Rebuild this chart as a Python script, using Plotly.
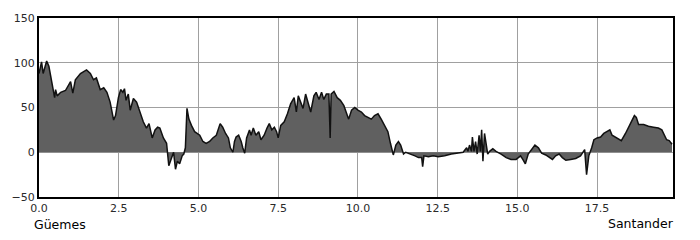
import plotly.graph_objects as go

dist_km = [0.0, 0.08, 0.13, 0.24, 0.31, 0.44, 0.49, 0.52, 0.57, 0.68, 0.83, 0.99, 1.06, 1.14, 1.3,
           1.49, 1.61, 1.71, 1.8, 1.92, 2.03, 2.13, 2.23, 2.34, 2.4, 2.49, 2.56, 2.63, 2.68, 2.73,
           2.8, 2.86, 2.96, 3.06, 3.17, 3.27, 3.37, 3.45, 3.55, 3.64, 3.72, 3.79, 3.9, 4.0, 4.07,
           4.15, 4.22, 4.28, 4.34, 4.41, 4.49, 4.54, 4.59, 4.64, 4.7, 4.78, 4.88, 5.04, 5.14, 5.24,
           5.35, 5.45, 5.56, 5.68, 5.76, 5.85, 5.94, 6.0, 6.08, 6.13, 6.18, 6.26, 6.34, 6.39, 6.45,
           6.51, 6.6, 6.65, 6.72, 6.8, 6.89, 6.96, 7.06, 7.15, 7.22, 7.3, 7.38, 7.45, 7.5, 7.58,
           7.69, 7.79, 7.89, 8.0, 8.07, 8.13, 8.2, 8.28, 8.36, 8.45, 8.52, 8.62, 8.69, 8.78, 8.86,
           8.93, 9.01, 9.09, 9.13, 9.16, 9.25, 9.35, 9.45, 9.56, 9.64, 9.71, 9.8, 9.9, 10.0, 10.11,
           10.21, 10.31, 10.42, 10.52, 10.63, 10.73, 10.84, 10.94, 11.02, 11.11, 11.19, 11.27, 11.34, 11.43, 11.5,
           11.58, 11.69, 11.79, 11.9, 12.0, 12.03, 12.07, 12.21, 12.36, 12.52, 12.72, 12.93, 13.14, 13.3, 13.41,
           13.45, 13.5, 13.56, 13.59, 13.64, 13.69, 13.74, 13.8, 13.84, 13.88, 13.92, 13.97, 14.02, 14.07, 14.13,
           14.23, 14.33, 14.49, 14.65, 14.8, 14.96, 15.1, 15.17, 15.25, 15.34, 15.45, 15.55, 15.66, 15.76, 15.89,
           16.0, 16.1, 16.2, 16.31, 16.41, 16.52, 16.67, 16.83, 16.98, 17.11, 17.17, 17.24, 17.33, 17.4, 17.5,
           17.61, 17.71, 17.81, 17.9, 17.97, 18.07, 18.18, 18.26, 18.39, 18.49, 18.6, 18.67, 18.73, 18.8, 18.96,
           19.11, 19.27, 19.42, 19.53, 19.6, 19.68, 19.76, 19.85]

elev_m = [88, 101, 88, 102, 96, 72, 61, 70, 63, 67, 69, 79, 66, 81, 88,
          92, 88, 81, 83, 70, 72, 67, 56, 36, 41, 61, 70, 67, 71, 58,
          65, 47, 60, 56, 45, 34, 27, 32, 16, 25, 28, 27, 16, 10, -15,
          -6, 0, -19, -10, -13, -4, -2, 5, 49, 37, 30, 23, 19, 12, 10,
          12, 16, 19, 32, 28, 21, 16, 5, 0, 12, 17, 19, 12, 5, -1,
          16, 25, 19, 27, 19, 23, 14, 19, 27, 32, 25, 28, 23, 16, 30,
          34, 43, 54, 61, 45, 63, 56, 49, 65, 52, 45, 63, 67, 59, 67,
          59, 65, 65, 16, 65, 68, 61, 58, 52, 45, 37, 47, 50, 47, 45,
          41, 39, 37, 41, 43, 37, 30, 23, 10, -3, 8, 12, 8, -2, 0,
          -1, -3, -4, -6, -6, -16, -4, -5, -4, -5, -4, -2, -1, 0, 5,
          1, 8, 1, 17, 1, 12, -2, 19, 1, 25, -10, 21, 8, -2, 1,
          4, 1, -2, -6, -8, -8, -4, -8, -13, -2, 4, 8, 5, -1, -3,
          -6, -8, -4, -2, -6, -9, -8, -7, -4, 3, -25, -4, 5, 14, 16,
          17, 21, 23, 25, 19, 17, 15, 13, 21, 28, 36, 41, 39, 31, 31,
          29, 28, 27, 25, 19, 14, 13, 9]

x_ticks = [0.0, 2.5, 5.0, 7.5, 10.0, 12.5, 15.0, 17.5]
x_tick_labels = ["0.0", "2.5", "5.0", "7.5", "10.0", "12.5", "15.0", "17.5"]
y_ticks = [-50, 0, 50, 100, 150]
start_label = "Güemes"
end_label = "Santander"

fig = go.Figure()
fig.add_trace(go.Scatter(
    x=dist_km, y=elev_m, mode="lines", fill="tozeroy",
    fillcolor="#606060", line=dict(color="#111111", width=1.5),
    hoverinfo="skip", showlegend=False,
))

fig.update_layout(
    width=700, height=240,
    margin=dict(l=35, r=27, t=12, b=43),
    paper_bgcolor="white", plot_bgcolor="white",
    font=dict(family="DejaVu Sans", size=11, color="#2a2a2a"),
    xaxis=dict(range=[0, 19.88], tickvals=x_ticks, ticktext=x_tick_labels,
               showgrid=True, gridcolor="#a0a0a0", gridwidth=1,
               showline=True, linecolor="black", linewidth=2, mirror=True,
               ticks="", zeroline=False),
    yaxis=dict(range=[-50, 150], tickvals=y_ticks,
               showgrid=True, gridcolor="#a0a0a0", gridwidth=1,
               showline=True, linecolor="black", linewidth=2, mirror=True,
               ticks="", zeroline=False),
    annotations=[
        dict(text=start_label, xref="paper", yref="paper", x=0, y=-0.155,
             xanchor="left", yanchor="middle", xshift=-5, showarrow=False,
             borderpad=0, borderwidth=0,
             font=dict(family="DejaVu Sans", size=12.5, color="#000000")),
        dict(text=end_label, xref="paper", yref="paper", x=1, y=-0.15,
             xanchor="right", yanchor="middle", xshift=1, showarrow=False,
             borderpad=0, borderwidth=0,
             font=dict(family="DejaVu Sans", size=12.5, color="#000000")),
    ],
)

fig.write_html("out.html")
